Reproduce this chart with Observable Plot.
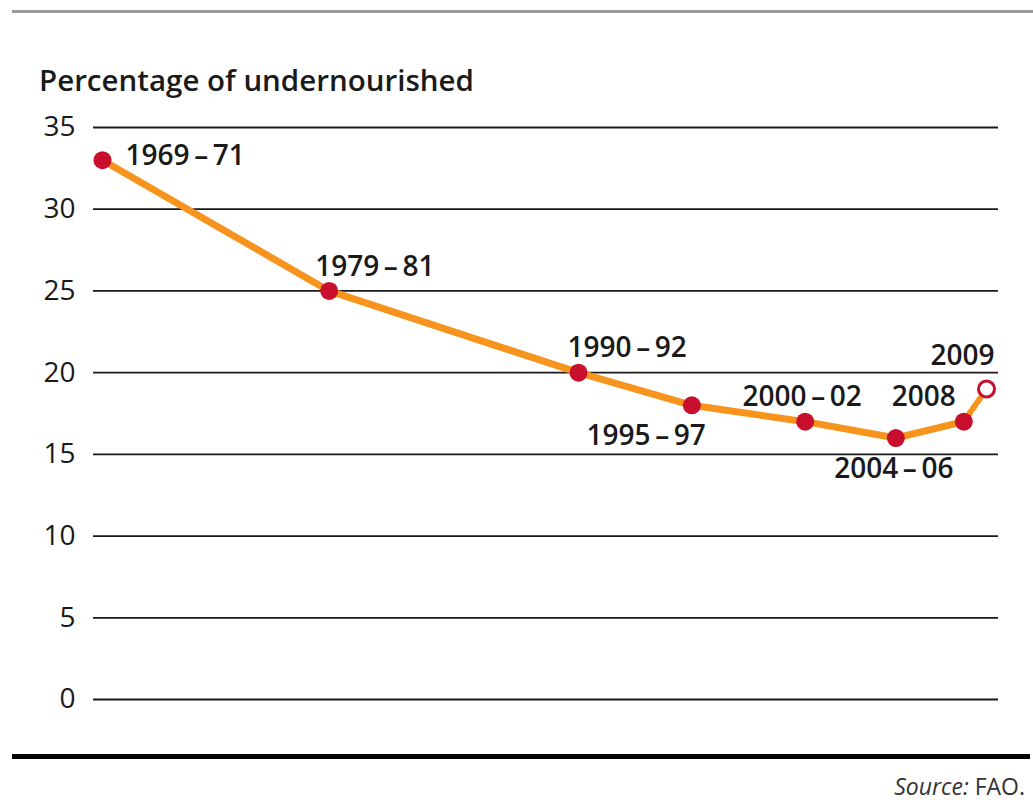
<!DOCTYPE html>
<html>
<head>
<meta charset="utf-8">
<script src="https://cdn.jsdelivr.net/npm/d3@7"></script>
<script src="https://cdn.jsdelivr.net/npm/@observablehq/plot@0.6"></script>
<style>
  html, body { margin: 0; padding: 0; background: #fff; }
  #wrap { position: relative; width: 1033px; height: 805px; overflow: hidden; font-family: "Open Sans", sans-serif; }
  #topline { position: absolute; left: 12px; top: 10px; width: 1021px; height: 3px; background: #9a9a9a; }
  #ytitle { position: absolute; left: 39px; top: 60px; font-size: 29.5px; line-height: 40px; font-weight: 600; color: #1a1a1a; white-space: nowrap; }
  #chart { position: absolute; left: 0; top: 100px; }
  #bottomline { position: absolute; left: 12px; top: 754px; width: 1018px; height: 5px; background: #000; }
  #source { position: absolute; right: 8px; top: 770px; font-size: 23px; color: #333; }
</style>
</head>
<body>
<div id="wrap">
  <div id="topline"></div>
  <div id="ytitle">Percentage of undernourished</div>
  <div id="chart"></div>
  <div id="bottomline"></div>
  <div id="source"><i>Source:</i> FAO.</div>
</div>
<script>
// Data
const periods = ["1969\u2009\u2013\u200971", "1979\u2009\u2013\u200981", "1990\u2009\u2013\u200992", "1995\u2009\u2013\u200997", "2000\u2009\u2013\u200902", "2004\u2009\u2013\u200906", "2008", "2009"];
const midYears = [1970, 1980, 1991, 1996, 2001, 2005, 2008, 2009];
const percentUndernourished = [33, 25, 20, 18, 17, 16, 17, 19];
const isEstimate = [false, false, false, false, false, false, false, true];
const yTicks = [0, 5, 10, 15, 20, 25, 30, 35];

const data = periods.map((p, i) => ({ period: p, year: midYears[i], value: percentUndernourished[i], estimate: isEstimate[i] }));
const observed = data.filter(d => !d.estimate);
const lastTwo = data.slice(-2);

// label placement (presentation only), by index into periods
const place = [
  { anchor: "start", dx: 23, dy: -4 },
  { anchor: "start", dx: -14, dy: -24 },
  { anchor: "start", dx: -11, dy: -25 },
  { anchor: "end", dx: 14, dy: 31 },
  { anchor: "middle", dx: -3, dy: -25 },
  { anchor: "middle", dx: -2, dy: 31 },
  { anchor: "end", dx: -8, dy: -25 },
  { anchor: "end", dx: 8, dy: -33 }
];

const labelMarks = data.map((d, i) => {
  const p = place[i];
  return Plot.text([d], {
    x: "year", y: "value", text: "period",
    textAnchor: p.anchor, dx: p.dx, dy: p.dy,
    fontSize: 28, fontWeight: 600, fill: "#1a1a1a"
  });
});

const chart = Plot.plot({
  width: 1033,
  height: 620,
  marginLeft: 93,
  marginRight: 35,
  marginTop: 27,
  marginBottom: 21,
  style: { fontFamily: "Open Sans, sans-serif", background: "transparent", overflow: "visible" },
  x: { domain: [1969.603, 2009.529], axis: null },
  y: { domain: [0, 35], ticks: yTicks },
  marks: [
    Plot.ruleY(yTicks, { stroke: "#1a1a1a", strokeWidth: 1.8 }),
    Plot.axisY(yTicks, { tickSize: 0, tickPadding: 18, fontSize: 28, fill: "#1a1a1a", label: null }),
    Plot.line(lastTwo, { x: "year", y: "value", stroke: "#f7941d", strokeWidth: 6, strokeDasharray: "4,4" }),
    Plot.line(observed, { x: "year", y: "value", stroke: "#f7941d", strokeWidth: 7, strokeLinejoin: "round" }),
    Plot.dot(observed, { x: "year", y: "value", r: 9, fill: "#c8102e", stroke: "none" }),
    Plot.dot(data.filter(d => d.estimate), { x: "year", y: "value", r: 8, fill: "#fff", stroke: "#c8102e", strokeWidth: 3 }),
    ...labelMarks
  ]
});
document.getElementById("chart").appendChild(chart);
</script>
</body>
</html>
